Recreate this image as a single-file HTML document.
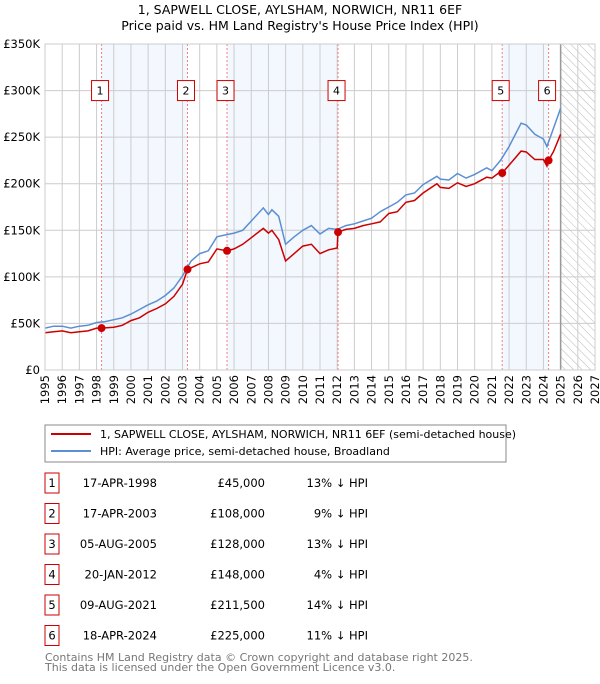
<!DOCTYPE html>
<html><head><meta charset="utf-8">
<style>
body{margin:0;background:#fff;font-family:"DejaVu Sans","Liberation Sans",sans-serif;}
svg text{font-family:"DejaVu Sans","Liberation Sans",sans-serif;}
</style></head>
<body>
<svg id="chart" width="600" height="680" viewBox="0 0 600 680">
<defs>
<pattern id="hatch" width="6" height="6" patternUnits="userSpaceOnUse" patternTransform="rotate(-45)">
<line x1="0" y1="0" x2="0" y2="6" stroke="#bbb" stroke-width="1"/>
</pattern>
</defs>
<text x="300" y="14" text-anchor="middle" font-size="12.5">1, SAPWELL CLOSE, AYLSHAM, NORWICH, NR11 6EF</text>
<text x="300" y="30" text-anchor="middle" font-size="12.5">Price paid vs. HM Land Registry's House Price Index (HPI)</text>
<g id="plot"></g>
<g>
<rect x="45" y="425" width="461" height="37" fill="#fff" stroke="#888" stroke-width="1"/>
<line x1="51" y1="434" x2="91" y2="434" stroke="#cc0000" stroke-width="2"/>
<text x="100" y="438" font-size="11">1, SAPWELL CLOSE, AYLSHAM, NORWICH, NR11 6EF (semi-detached house)</text>
<line x1="51" y1="451" x2="91" y2="451" stroke="#5b8fd4" stroke-width="2"/>
<text x="100" y="455" font-size="11">HPI: Average price, semi-detached house, Broadland</text>
</g>
<g id="table" font-size="11.5"></g>
<text x="45" y="661" font-size="11" fill="#777">Contains HM Land Registry data © Crown copyright and database right 2025.</text>
<text x="45" y="671" font-size="11" fill="#777">This data is licensed under the Open Government Licence v3.0.</text>
</svg>
<script>
const hpiYears=[1995,1995.5,1996,1996.5,1997,1997.5,1998,1998.5,1999,1999.5,2000,2000.5,2001,2001.5,2002,2002.5,2003,2003.5,2004,2004.5,2005,2005.5,2006,2006.5,2007,2007.7,2008,2008.2,2008.6,2009,2009.5,2010,2010.5,2011,2011.5,2012,2012.5,2013,2013.5,2014,2014.5,2015,2015.5,2016,2016.5,2017,2017.8,2018,2018.5,2019,2019.5,2020,2020.7,2021,2021.5,2022,2022.7,2023,2023.5,2024,2024.2,2024.5,2025];
const hpiValues=[45,47,47,45,47,48,51,52,54,56,60,65,70,74,80,88,101,117,125,128,143,145,147,150,160,174,167,172,165,135,143,150,155,146,152,151,155,157,160,163,170,175,180,188,190,199,208,205,204,211,206,210,217,214,225,240,265,263,253,248,240,255,281];
const paidYears=[1995,1995.5,1996,1996.5,1997,1997.5,1998,1998.29,1999,1999.5,2000,2000.5,2001,2001.5,2002,2002.5,2003,2003.29,2004,2004.5,2005,2005.59,2006,2006.5,2007,2007.7,2008,2008.2,2008.6,2009,2009.5,2010,2010.5,2011,2011.5,2012,2012.05,2012.5,2013,2013.5,2014,2014.5,2015,2015.5,2016,2016.5,2017,2017.8,2018,2018.5,2019,2019.5,2020,2020.7,2021,2021.5,2021.6,2022,2022.7,2023,2023.5,2024,2024.2,2024.3,2024.6,2025];
const paidValues=[40,41,42,40,41,42,45,45,46,48,53,56,62,66,71,79,92,108,114,116,130,128,130,135,142,152,147,150,140,117,125,133,135,125,129,131,148,151,152,155,157,159,168,170,180,182,190,200,196,195,201,197,200,207,206,213,211.5,220,235,234,226,226,219,225,235,253];
const saleLabels=["1","2","3","4","5","6"];
const saleYears=[1998.29,2003.29,2005.59,2012.05,2021.6,2024.3];
const saleValues=[45,108,128,148,211.5,225];
const saleDates=["17-APR-1998","17-APR-2003","05-AUG-2005","20-JAN-2012","09-AUG-2021","18-APR-2024"];
const salePrices=["£45,000","£108,000","£128,000","£148,000","£211,500","£225,000"];
const saleDiffs=["13% ↓ HPI","9% ↓ HPI","13% ↓ HPI","4% ↓ HPI","14% ↓ HPI","11% ↓ HPI"];
const yTicks=[0,50,100,150,200,250,300,350];
const yTickLabels=["£0","£50K","£100K","£150K","£200K","£250K","£300K","£350K"];
const xTicks=[1995,1996,1997,1998,1999,2000,2001,2002,2003,2004,2005,2006,2007,2008,2009,2010,2011,2012,2013,2014,2015,2016,2017,2018,2019,2020,2021,2022,2023,2024,2025,2026,2027];

const NS="http://www.w3.org/2000/svg";
const X0=45,X1=595,Y0=370,Y1=44;
const xs=y=>X0+(y-1995)/(2027-1995)*(X1-X0);
const ys=v=>Y0-v/350*(Y0-Y1);
const plot=document.getElementById('plot');
function mk(tag,attrs,parent){const e=document.createElementNS(NS,tag);for(const k in attrs)e.setAttribute(k,attrs[k]);(parent||plot).appendChild(e);return e;}

for(let i=0;i<saleYears.length;i+=2){
  const r=mk('rect',{x:xs(saleYears[i]),y:Y1,width:xs(saleYears[i+1])-xs(saleYears[i]),height:Y0-Y1,fill:'#f3f7fe'});
  
  
}
const hr=mk('rect',{x:xs(2025),y:Y1,width:X1-xs(2025),height:Y0-Y1,fill:'url(#hatch)'});


xTicks.forEach((t,i)=>{
  const l=mk('line',{x1:xs(t),x2:xs(t),y1:Y1,y2:Y0,stroke:'#ccc','stroke-width':1});
  
  
  const tx=mk('text',{x:0,y:0,transform:`translate(${xs(t)+4},${Y0+5}) rotate(-90)`,'text-anchor':'end','font-size':11.5});
  tx.textContent=t;
  
  
});
yTicks.forEach((t,i)=>{
  const l=mk('line',{x1:X0,x2:X1,y1:ys(t),y2:ys(t),stroke:'#ccc','stroke-width':1});
  
  
  const tx=mk('text',{x:X0-5,y:ys(t)+4,'text-anchor':'end','font-size':11.5});
  tx.textContent=yTickLabels[i];
  
  
});
const nowL=mk('line',{x1:xs(2025),x2:xs(2025),y1:Y1,y2:Y0,stroke:'#999','stroke-width':1.5});


saleYears.forEach(s=>{
  const l=mk('line',{x1:xs(s),x2:xs(s),y1:Y1,y2:Y0,stroke:'#f08080','stroke-width':1,'stroke-dasharray':'2,2'});
  
  
});
function path(xsArr,vs){return xsArr.map((y,i)=>(i?'L':'M')+xs(y).toFixed(1)+','+ys(vs[i]).toFixed(1)).join('');}
const hp=mk('path',{d:path(hpiYears,hpiValues),fill:'none',stroke:'#5b8fd4','stroke-width':1.5});


const pp=mk('path',{d:path(paidYears,paidValues),fill:'none',stroke:'#cc0000','stroke-width':1.5});


saleYears.forEach((s,i)=>{
  const c=mk('circle',{cx:xs(s),cy:ys(saleValues[i]),r:4,fill:'#cc0000'});
  
  
  const bx=xs(s)-9;
  const r=mk('rect',{x:bx-1,y:ys(300)-10,width:17,height:20,fill:'#fff',stroke:'#cc0000','stroke-width':1});
  
  
  const t=mk('text',{x:bx+7.5,y:ys(300)+4,'text-anchor':'middle','font-size':11});
  t.textContent=saleLabels[i];
  
  
});
const fr=mk('rect',{x:X0,y:Y1,width:X1-X0,height:Y0-Y1,fill:'none',stroke:'#ccc','stroke-width':1});



const tb=document.getElementById('table');
saleLabels.forEach((lab,i)=>{
  const cy=483+i*30.5;
  const g=mk('g',{},tb);
  
  
  const r=mk('rect',{x:45,y:cy-10,width:14,height:20,fill:'#fff',stroke:'#cc0000','stroke-width':1},g);
  
  
  const cells=[[52,lab,'middle'],[157,saleDates[i],'end'],[265,salePrices[i],'end'],[368,saleDiffs[i],'end']];
  cells.forEach((c,j)=>{
    const t=mk('text',{x:c[0],y:cy+4,'text-anchor':c[2]},g);
    t.textContent=c[1];
    
    
  });
});
</script>
</body></html>
